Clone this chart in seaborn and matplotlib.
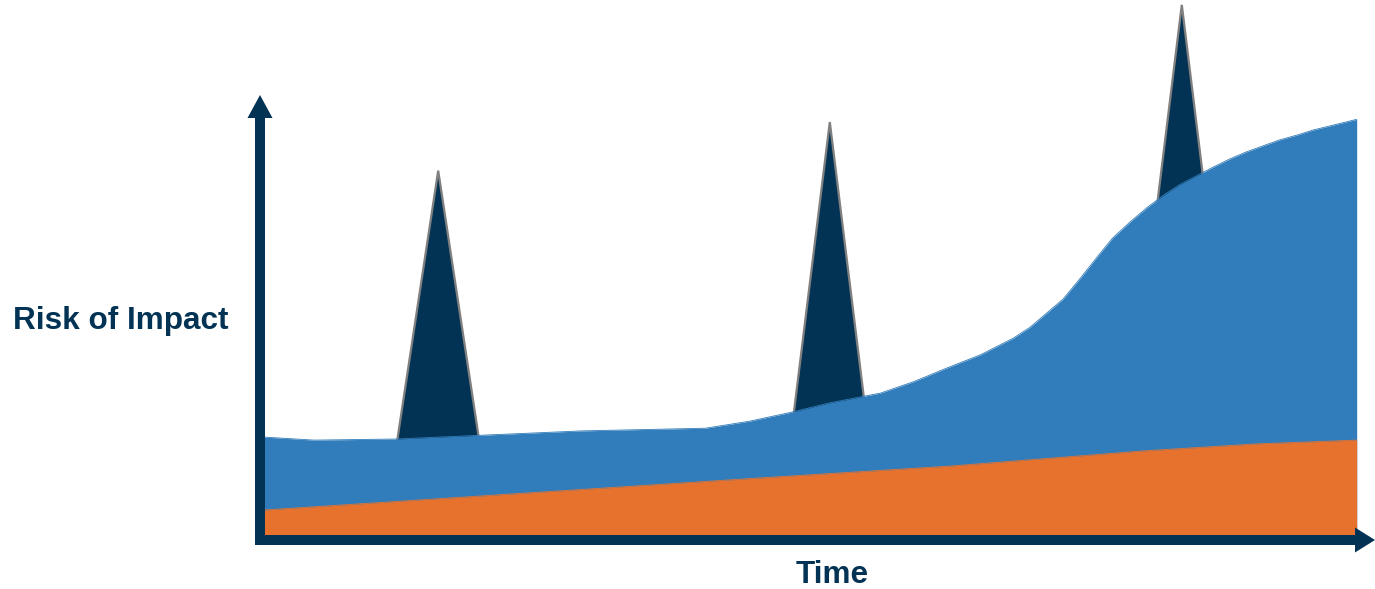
import numpy as np
import pandas as pd
import matplotlib
matplotlib.use("Agg")
import matplotlib.pyplot as plt
from matplotlib.patches import FancyArrow
import seaborn as sns

# ---- data (time 0..100, risk 0..100) ----
blue_time = [0.0, 4.9, 12.4, 20.1, 29.2, 40.5, 44.5, 48.4, 51.8, 56.4, 59.4, 62.5,
             65.5, 68.5, 70.0, 71.5, 73.0, 74.5, 76.1, 77.5, 79.1, 80.6, 82.1,
             83.6, 85.2, 86.6, 88.2, 89.7, 91.2, 92.7, 94.3, 95.7, 97.3, 99.7]
blue_risk = [19.1, 18.5, 18.7, 19.4, 20.2, 20.7, 22.0, 23.7, 25.4, 27.2, 29.3, 31.9,
             34.3, 37.4, 39.4, 42.0, 44.6, 48.3, 52.4, 55.9, 58.9, 61.5, 63.8,
             65.8, 67.5, 69.0, 70.6, 71.9, 73.0, 74.1, 75.0, 75.9, 76.7, 77.9]

orange_time = [0.0, 22.7, 45.5, 62.8, 80.3, 90.6, 99.7]
orange_risk = [5.5, 8.5, 11.5, 13.7, 16.5, 17.8, 18.5]

spike_time = [16.2, 51.8, 83.8]
spike_peak = [68.4, 77.4, 99.1]
spike_half_base = [5.1, 4.7, 6.0]

x_label = "Time"
y_label = "Risk of Impact"

NAVY = "#033354"
BLUE = "#317CBA"
ORANGE = "#E6722D"
GRAY = "#808080"

sns.set_theme(style="white")
plt.rcParams["font.family"] = ["Liberation Sans", "DejaVu Sans"]

W, H = 1375, 589
fig = plt.figure(figsize=(W / 100, H / 100), dpi=100)
fig.patch.set_facecolor("white")
# axes: origin at pixel (260, 540), x to 1360, y to top
ax = fig.add_axes([260 / W, 49 / H, 1100 / W, 540 / H])

# spikes (behind the blue area)
for t, p, hw in zip(spike_time, spike_peak, spike_half_base):
    ax.fill([t - hw, t, t + hw], [0, p, 0], facecolor=NAVY, edgecolor=GRAY,
            linewidth=1.6, joinstyle="miter", zorder=1)

blue_df = pd.DataFrame({"time": blue_time, "risk": blue_risk})
orange_df = pd.DataFrame({"time": orange_time, "risk": orange_risk})

ax.fill_between(blue_df["time"], 0, blue_df["risk"], color=BLUE, lw=0, zorder=2)
sns.lineplot(data=blue_df, x="time", y="risk", ax=ax, color=BLUE, lw=0.6,
             sort=False, zorder=2)
ax.fill_between(orange_df["time"], 0, orange_df["risk"], color=ORANGE, lw=0, zorder=3)
sns.lineplot(data=orange_df, x="time", y="risk", ax=ax, color=ORANGE, lw=0.6,
             sort=False, zorder=3)
ax.set_xlim(0, 100)
ax.set_ylim(0, 100)
ax.set_axis_off()

# axis arrows (pixel sizes converted: 1 x-unit = 11 px, 1 y-unit = 5.4 px)
xu, yu = 11.0, 5.4
ax.add_patch(FancyArrow(0, -5 / yu, 0, (545 - 95) / yu, width=10 / xu,
                        head_width=25 / xu, head_length=23 / yu,
                        length_includes_head=True, color=NAVY, lw=0,
                        clip_on=False, zorder=5))
ax.add_patch(FancyArrow(-5 / xu, 0, (1375 - 255) / xu, 0, width=10 / yu,
                        head_width=25 / yu, head_length=20 / xu,
                        length_includes_head=True, color=NAVY, lw=0,
                        clip_on=False, zorder=5))

fig.text(832 / W, 1 - 583 / H, x_label, ha="center", va="baseline",
         fontsize=22.7, fontweight="bold", color=NAVY)
fig.text(13 / W, 1 - 329 / H, y_label, ha="left", va="baseline",
         fontsize=22.7, fontweight="bold", color=NAVY)

fig.savefig("out.png", dpi=100, facecolor="white")
